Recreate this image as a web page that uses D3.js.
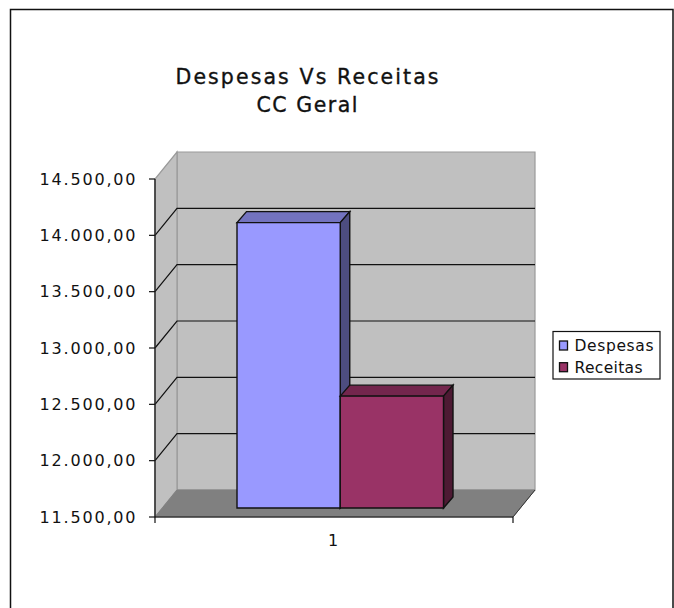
<!DOCTYPE html>
<html><head><meta charset="utf-8"><script src="https://d3js.org/d3.v7.min.js"></script>
<style>html,body{margin:0;background:#fff}svg{display:block}text{font-family:"DejaVu Sans";fill:#111}</style></head>
<body><svg width="674" height="608"></svg>
<script>
const titleLines = ["Despesas Vs Receitas", "CC Geral"];
const titleWidths = [263, 101];
const categories = ["1"];
const seriesNames = ["Despesas", "Receitas"];
const seriesValues = [14040, 12500];
const tickValues = [11500, 12000, 12500, 13000, 13500, 14000, 14500];
const frontColors = ["#9999ff", "#993366"];
const topColors = ["#7373bf", "#73264d"];
const sideColors = ["#4d4d80", "#4d1a33"];
const legendWidths = [79, 68];

const svg = d3.select("svg");
const fmt = v => d3.format(",.2f")(v).replace(/[.,]/g, c => c === "." ? "," : ".");
const y = d3.scaleLinear().domain([11500, 14500]).range([517, 179]);
const x = d3.scaleBand().domain(categories).range([155, 513]);
const inner = d3.scaleBand().domain(seriesNames).range([237, 443.5]);
const dx = 22, dy = -27, bx = 9.5, by = -11;
const poly = (pts, fill, stroke, sw) => svg.append("polygon").attr("points", pts.map(p => p.join(",")).join(" "))
  .attr("fill", fill).attr("stroke", stroke).attr("stroke-width", sw).attr("stroke-linejoin", "miter");

svg.append("path").attr("d", "M10.5,608V9.5H673V608")
  .attr("fill", "none").attr("stroke", "#111").attr("stroke-width", 1.5);

titleLines.forEach((t, i) => svg.append("text").attr("x", 307).attr("y", 84 + i * 28)
  .attr("text-anchor", "middle").attr("font-size", 20.5).attr("textLength", titleWidths[i]).attr("lengthAdjust", "spacing")
  .attr("stroke", "#111").attr("stroke-width", 0.35).text(t));

const x0 = x.range()[0], x1 = x.range()[1], yB = y(11500), yT = y(14500);
// walls
poly([[x0 + dx, yT + dy], [x1 + dx, yT + dy], [x1 + dx, yB + dy], [x0 + dx, yB + dy]], "#c0c0c0", "#9a9a9a", 1.2);
poly([[x0, yB], [x0 + dx, yB + dy], [x0 + dx, yT + dy], [x0, yT]], "#c0c0c0", "#9a9a9a", 1.2);
poly([[x0, yB], [x1, yB], [x1 + dx, yB + dy], [x0 + dx, yB + dy]], "#808080", "#808080", 1);
// gridlines
tickValues.slice(1, -1).forEach(v => {
  svg.append("path").attr("fill", "none").attr("stroke", "#111").attr("stroke-width", 1.2)
    .attr("d", `M${x0},${y(v)}L${x0 + dx},${y(v) + dy}L${x1 + dx},${y(v) + dy}`);
});
// axes
svg.append("line").attr("x1", x0).attr("x2", x0).attr("y1", yT).attr("y2", yB).attr("stroke", "#222").attr("stroke-width", 1.4);
svg.append("line").attr("x1", x0).attr("x2", x1).attr("y1", yB).attr("y2", yB).attr("stroke", "#111").attr("stroke-width", 1.2);
tickValues.forEach(v => {
  svg.append("line").attr("x1", x0 - 6).attr("x2", x0).attr("y1", y(v)).attr("y2", y(v)).attr("stroke", "#111").attr("stroke-width", 1.2);
  svg.append("text").attr("x", 39.5).attr("y", y(v) + 5.8).attr("font-size", 16).attr("textLength", 96).attr("lengthAdjust", "spacing").text(fmt(v));
});
[x0, x1].forEach(px => svg.append("line").attr("x1", px).attr("x2", px).attr("y1", yB).attr("y2", yB + 6).attr("stroke", "#111").attr("stroke-width", 1.2));
svg.append("line").attr("x1", x1).attr("y1", yB).attr("x2", x1 + dx).attr("y2", yB + dy).attr("stroke", "#333");
svg.append("text").attr("x", x(categories[0]) + x.bandwidth() / 2 - 1).attr("y", 546).attr("text-anchor", "middle").attr("font-size", 16).text(categories[0]);
// bars
const barBase = yB - 9;
const barY = v => y(v) - 8.2;
seriesNames.forEach((s, i) => {
  const l = inner(s), r = l + inner.bandwidth(), t = barY(seriesValues[i]);
  poly([[l, t], [l + bx, t + by], [r + bx, t + by], [r, t]], topColors[i], "#111", 1.4);
  poly([[r, t], [r + bx, t + by], [r + bx, barBase + by], [r, barBase]], sideColors[i], "#111", 1.4);
  poly([[l, t], [r, t], [r, barBase], [l, barBase]], frontColors[i], "#111", 1.4);
});
// legend
svg.append("rect").attr("x", 553).attr("y", 331.5).attr("width", 107).attr("height", 47.5).attr("fill", "#fff").attr("stroke", "#111").attr("stroke-width", 1.2);
seriesNames.forEach((s, i) => {
  const base = 351 + i * 21.7;
  svg.append("rect").attr("x", 559.5).attr("y", base - 10).attr("width", 8).attr("height", 9).attr("fill", frontColors[i]).attr("stroke", "#111").attr("stroke-width", 1.3);
  svg.append("text").attr("x", 574.5).attr("y", base).attr("font-size", 15.5).attr("textLength", legendWidths[i]).attr("lengthAdjust", "spacing").text(s);
});
</script></body></html>
